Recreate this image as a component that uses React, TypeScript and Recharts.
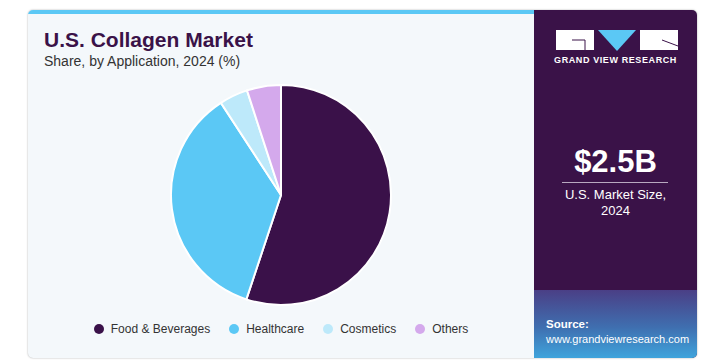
import { PieChart, Pie, Cell } from 'recharts';

const categories = ['Food & Beverages', 'Healthcare', 'Cosmetics', 'Others'];
const shares = [55.1, 35.7, 4.2, 5.0];
const COLORS = ['#3a1149', '#5bc8f5', '#bde9fa', '#d4a9ec'];

const data = categories.map((name, i) => ({ name, value: shares[i] }));

const FONT = '"Liberation Sans", Arial, sans-serif';

function Logo() {
  return (
    <svg width={122} height={22} viewBox="0 0 122 22">
      <rect x={0} y={0} width={38} height={20} fill="#fff" />
      <path d="M16 10 H29 V20" stroke="#3a1248" strokeWidth={1} fill="none" />
      <polygon points="42,0 80,0 61,21" fill="#5bc8f5" />
      <rect x={84} y={0} width={38} height={20} fill="#fff" />
      <path d="M106 10 L122 16" stroke="#3a1248" strokeWidth={1} fill="none" />
    </svg>
  );
}

export default function App() {
  return (
    <div style={{ position: 'absolute', left: 0, top: 0, width: 708, height: 363, background: '#fff', fontFamily: FONT }}>
      <div
        style={{
          position: 'absolute',
          left: 28,
          top: 10,
          width: 669,
          height: 348,
          borderRadius: 5,
          overflow: 'hidden',
          background: '#f4f8fb',
          boxShadow: '0 0 2px rgba(0,0,0,0.35)',
        }}
      >
        <div style={{ position: 'absolute', left: 0, top: 0, width: 506, height: 4, background: '#5bc8f5' }} />
        <div style={{ position: 'absolute', left: 16, top: 18, fontSize: 21, fontWeight: 700, color: '#3a1248' }}>
          U.S. Collagen Market
        </div>
        <div style={{ position: 'absolute', left: 16, top: 43, fontSize: 14, color: '#333' }}>
          Share, by Application, 2024 (%)
        </div>

        <div style={{ position: 'absolute', left: 0, top: 60 }}>
          <PieChart width={506} height={250} margin={{ top: 0, right: 0, bottom: 0, left: 0 }}>
            <Pie
              data={data}
              dataKey="value"
              nameKey="name"
              cx={253}
              cy={125}
              outerRadius={110}
              startAngle={90}
              endAngle={-270}
              stroke="#ffffff"
              strokeWidth={2}
              isAnimationActive={false}
            >
              {data.map((entry, index) => (
                <Cell key={index} fill={COLORS[index]} />
              ))}
            </Pie>
          </PieChart>
        </div>

        <div
          style={{
            position: 'absolute',
            left: 0,
            width: 506,
            top: 312,
            display: 'flex',
            justifyContent: 'center',
            gap: 19,
            fontSize: 12,
            color: '#333',
          }}
        >
          {categories.map((name, i) => (
            <div key={name} style={{ display: 'flex', alignItems: 'center' }}>
              <span
                style={{
                  display: 'inline-block',
                  width: 10,
                  height: 10,
                  borderRadius: 5,
                  background: COLORS[i],
                  marginRight: 7,
                }}
              />
              {name}
            </div>
          ))}
        </div>

        <div
          style={{
            position: 'absolute',
            left: 506,
            top: 0,
            width: 163,
            height: 348,
            background: '#3a1248',
          }}
        >
          <div style={{ position: 'absolute', left: 22, top: 20 }}>
            <Logo />
          </div>
          <div
            style={{
              position: 'absolute',
              left: 0,
              width: 163,
              top: 45,
              textAlign: 'center',
              fontSize: 9,
              fontWeight: 700,
              color: '#fff',
              letterSpacing: 0.6,
            }}
          >
            GRAND VIEW RESEARCH
          </div>
          <div
            style={{
              position: 'absolute',
              left: 0,
              width: 163,
              top: 134,
              textAlign: 'center',
              fontSize: 31,
              fontWeight: 700,
              color: '#fff',
            }}
          >
            $2.5B
          </div>
          <div style={{ position: 'absolute', left: 28, top: 172, width: 106, height: 1, background: '#b8a8c0' }} />
          <div
            style={{
              position: 'absolute',
              left: 0,
              width: 163,
              top: 177,
              textAlign: 'center',
              fontSize: 13,
              lineHeight: '16px',
              color: '#fff',
            }}
          >
            U.S. Market Size,
            <br />
            2024
          </div>
          <div
            style={{
              position: 'absolute',
              left: 0,
              top: 280,
              width: 163,
              height: 68,
              background: 'linear-gradient(180deg, #4a3f86 0%, #3f6fb0 55%, #3fa4dc 100%)',
            }}
          >
            <div style={{ position: 'absolute', left: 12, top: 28, fontSize: 11.5, fontWeight: 700, color: '#fff' }}>
              Source:
            </div>
            <div style={{ position: 'absolute', left: 12, top: 43, fontSize: 11, color: '#fff' }}>
              www.grandviewresearch.com
            </div>
          </div>
        </div>
      </div>
    </div>
  );
}
